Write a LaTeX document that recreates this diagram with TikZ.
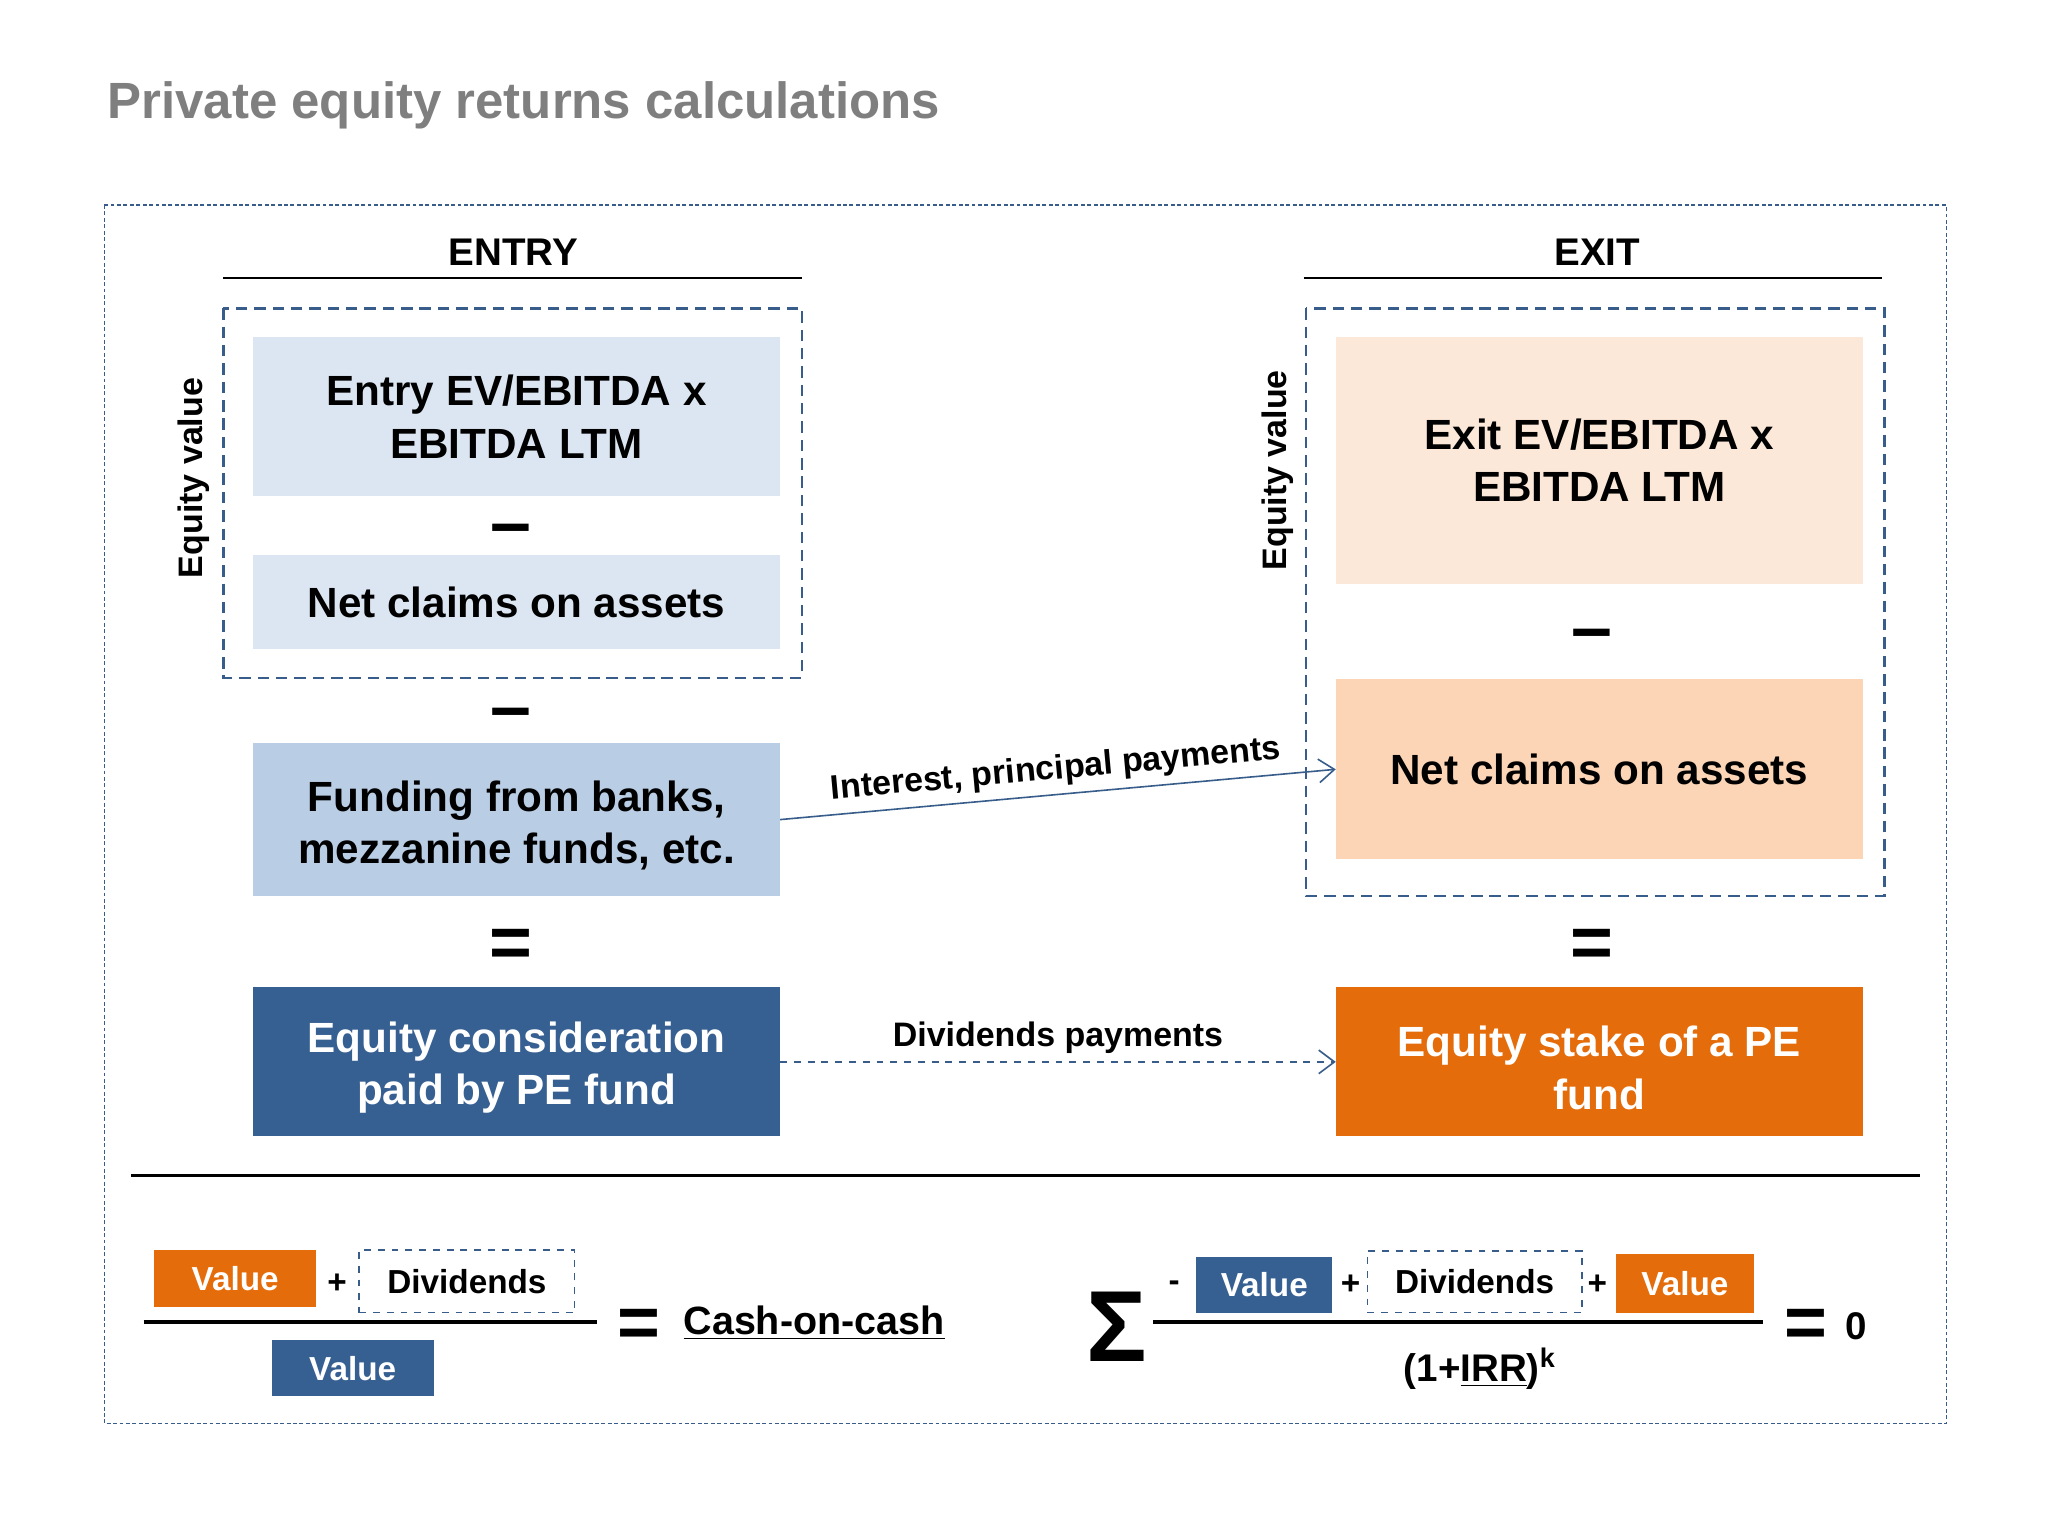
\documentclass[tikz,border=0pt]{standalone}
\usepackage{fontspec}
\setmainfont{Liberation Sans}
\usetikzlibrary{arrows.meta}

\definecolor{TitleColor}{RGB}{127,127,127}
\definecolor{FrameColor}{RGB}{56,93,138}
\definecolor{EntryLightColor}{RGB}{220,230,242}
\definecolor{FundingColor}{RGB}{185,205,229}
\definecolor{EntryDarkColor}{RGB}{55,96,146}
\definecolor{ExitLightColor}{RGB}{252,232,216}
\definecolor{ExitMidColor}{RGB}{251,213,181}
\definecolor{ExitDarkColor}{RGB}{228,108,10}

\begin{document}
\begin{tikzpicture}[
		x=0.02cm, y=-0.02cm,
		title/.style={anchor=west, inner sep=0pt, text=TitleColor, font=\bfseries\fontsize{22.2}{26}\selectfont},
		heading/.style={font=\bfseries\fontsize{16.8}{20}\selectfont},
		rule/.style={line width=1pt},
		sidelabel/.style={rotate=90, font=\bfseries\fontsize{14.8}{18}\selectfont},
		block/.style={inner sep=0pt, minimum width=8.06cm, align=center, font=\bfseries\fontsize{18.4}{22.8}\selectfont},
		sign/.style={inner sep=0pt, font=\bfseries\fontsize{32}{32}\selectfont},
		group/.style={draw=FrameColor, line width=1.1pt, dash pattern=on 5pt off 3pt},
		payment/.style={draw=FrameColor, line width=0.7pt, -{Straight Barb[length=2.4mm, width=3.6mm]}, font=\bfseries\fontsize{14.8}{18}\selectfont},
		term/.style={inner sep=0pt, minimum height=0.88cm, font=\bfseries\fontsize{14.5}{17}\selectfont},
		plus/.style={inner sep=0pt, font=\bfseries\fontsize{14.5}{17}\selectfont},
		bar/.style={line width=1.7pt}
	]
	\useasboundingbox (0,0) rectangle (1568,1176);

	% Title and frame
	\node[title] (title) at (82,81) {Private equity returns calculations};
	\draw[draw=FrameColor, line width=0.5pt, dash pattern=on 1.7pt off 1.1pt] (80,157) rectangle (1490,1090);

	% Headings
	\node[heading] (entry) at (393,193) {ENTRY};
	\node[heading] (exit) at (1223,193) {EXIT};
	\draw[rule] (171,213) -- (614,213);
	\draw[rule] (998,213) -- (1441,213);

	% Entry side
	\draw[group] (171,236) rectangle (614,519);
	\node[sidelabel] (entryequity) at (148,366) {Equity value};
	\node[block, fill=EntryLightColor, minimum height=2.44cm] (entryev) at (395.5,319) {Entry EV/EBITDA x\\EBITDA LTM};
	\node[sign] (minusa) at (391,410) {–};
	\node[block, fill=EntryLightColor, minimum height=1.44cm] (entryclaims) at (395.5,461) {Net claims on assets};
	\node[sign] (minusb) at (391,551) {–};
	\node[block, fill=FundingColor, minimum height=2.34cm] (funding) at (395.5,627.5) {\rule{0pt}{1.9ex}Funding from banks,\\mezzanine funds, etc.};
	\node[sign] (equala) at (391,726) {=};
	\node[block, fill=EntryDarkColor, text=white, minimum height=2.28cm] (consideration) at (395.5,813) {\rule{0pt}{1.9ex}Equity consideration\\paid by PE fund};

	% Exit side
	\draw[group] (1000,236) rectangle (1443,686);
	\node[sidelabel] (exitequity) at (978,360) {Equity value};
	\node[block, fill=ExitLightColor, minimum height=3.78cm] (exitev) at (1224.5,352.5) {Exit EV/EBITDA x\\EBITDA LTM};
	\node[sign] (minusc) at (1219,491) {–};
	\node[block, fill=ExitMidColor, minimum height=2.76cm] (exitclaims) at (1224.5,589) {Net claims on assets};
	\node[sign] (equalb) at (1219,726) {=};
	\node[block, fill=ExitDarkColor, text=white, minimum height=2.28cm] (stake) at (1224.5,813) {\rule{0pt}{1.9ex}Equity stake of a PE\\fund};

	% Arrows
	\draw[payment] (funding.east) -- node[sloped, above] {Interest, principal payments} (exitclaims.west);
	\draw[payment, dashed] (consideration.east) -- node[above] {Dividends payments} (stake.west);

	\draw[rule] (100,900) -- (1470,900);

	% Cash-on-cash
	\node[term, fill=ExitDarkColor, text=white, minimum width=2.48cm] (cocexit) at (180,979) {Value};
	\node[plus] (cocplus) at (258,983) {+};
	\node[term, draw=FrameColor, dashed, line width=0.7pt, minimum width=3.3cm, minimum height=0.96cm] (cocdiv) at (357.5,981) {Dividends};
	\draw[bar] (110,1012) -- (457,1012);
	\node[term, fill=EntryDarkColor, text=white, minimum width=2.48cm, minimum height=0.86cm] (cocentry) at (270,1047.5) {Value};
	\node[sign] (cocequal) at (489,1017) {=};
	\node[anchor=west, inner sep=0pt, font=\bfseries\fontsize{17.2}{20}\selectfont] (coc) at (523,1013) {\underline{Cash-on-cash}};

	% IRR
	\node[inner sep=0pt, font=\bfseries\fontsize{44}{44}\selectfont] (sum) at (855,1016) {Σ};
	\node[plus] (irrminus) at (899,985) {-};
	\node[term, fill=EntryDarkColor, text=white, minimum width=2.08cm, minimum height=0.86cm] (irrentry) at (968,983.5) {Value};
	\node[plus] (irrplusa) at (1034,984) {+};
	\node[term, draw=FrameColor, dashed, line width=0.7pt, minimum width=3.28cm, minimum height=0.94cm] (irrdiv) at (1129,981.5) {Dividends};
	\node[plus] (irrplusb) at (1223,984) {+};
	\node[term, fill=ExitDarkColor, text=white, minimum width=2.12cm, minimum height=0.9cm] (irrexit) at (1290,982.5) {Value};
	\draw[bar] (883,1012) -- (1350,1012);
	\node[inner sep=0pt, font=\bfseries\fontsize{16.8}{20}\selectfont] (discount) at (1133,1048) {(1+\underline{IRR})\textsuperscript{k}};
	\node[sign] (irrequal) at (1383,1017) {=};
	\node[inner sep=0pt, font=\bfseries\fontsize{16.8}{20}\selectfont] (zero) at (1421,1015) {0};

\end{tikzpicture}
\end{document}
